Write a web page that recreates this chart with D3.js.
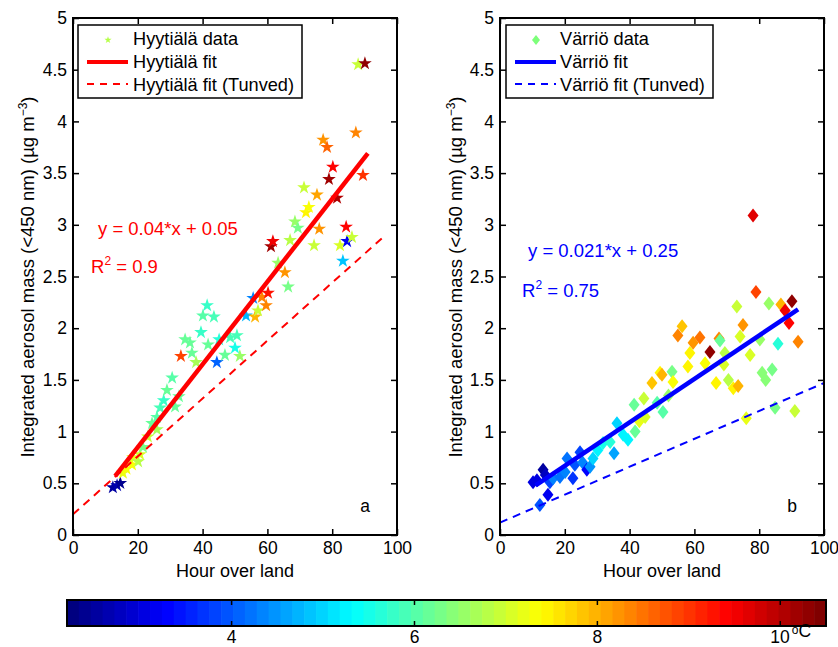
<!DOCTYPE html>
<html><head><meta charset="utf-8">
<script src="https://cdn.jsdelivr.net/npm/d3@7"></script>
<style>html,body{margin:0;padding:0;background:#fff}svg{display:block}text{font-family:"Liberation Sans",Arial,Helvetica,sans-serif}</style>
</head><body>
<svg id="chart" width="838" height="647"></svg>
<script>
// ---------------- DATA ----------------
const xTicks = [0, 20, 40, 60, 80, 100];
const yTicks = [0, 0.5, 1, 1.5, 2, 2.5, 3, 3.5, 4, 4.5, 5];
const cbarTicks = [4, 6, 8, 10];
const cbarRange = [2.2, 10.5];

// Hyytiälä: hour over land, mass, temperature
const hyyHour = [12.3,13.6,14.6,15.4,16.5,18.2,18.5,20.1,20.7,21.6,23.1,24.4,25.9,25.9,26.9,28.0,29.0,30.6,31.5,32.7,33.3,34.6,36.1,36.7,38.0,39.5,40.1,41.4,41.7,43.5,44.4,45.1,46.9,48.5,50.0,50.6,51.5,53.4,55.6,56.2,57.1,58.3,59.6,60.2,61.1,61.7,63.3,65.4,66.4,67.0,68.5,69.4,71.3,71.9,72.8,74.4,75.3,76.0,77.2,78.4,79.0,80.2,81.5,82.4,83.3,84.3,84.6,86.1,87.3,88.0,89.5,90.1];
const hyyMass = [0.46,0.48,0.50,0.60,0.64,0.68,0.75,0.71,0.78,0.85,0.95,1.08,1.02,1.14,1.23,1.30,1.40,1.52,1.24,1.34,1.73,1.89,1.86,1.76,1.67,1.96,2.12,2.22,1.84,2.11,1.67,1.89,1.74,1.91,1.81,1.93,1.73,2.12,2.29,2.11,2.17,2.30,2.22,2.34,2.79,2.84,2.63,2.54,2.40,2.85,3.03,2.97,3.36,3.12,3.17,2.80,3.29,2.96,3.82,3.75,3.44,3.56,3.26,2.80,2.65,2.98,2.84,2.88,3.89,4.55,3.48,4.56];
const hyyTemp = [2.5,2.6,2.4,7.2,7.3,7.3,7.2,6.8,7.0,6.3,6.9,6.1,6.7,6.0,5.9,5.8,6.2,6.0,6.2,6.2,8.9,6.1,6.2,6.2,6.7,5.8,6.0,5.8,6.2,5.9,4.1,5.7,6.2,5.9,5.5,5.9,6.6,4.7,4.3,8.0,6.9,8.4,8.3,9.3,10.2,9.5,6.6,8.2,6.3,6.8,6.6,6.3,6.9,7.4,7.3,6.9,8.1,8.2,8.2,8.6,10.2,9.4,10.1,7.0,4.8,9.4,3.2,6.9,8.3,6.9,9.0,10.3];

// Värriö
const varHour = [10.2,11.4,12.3,13.3,14.0,14.8,15.4,16.4,18.5,20.1,20.7,22.5,23.1,24.7,25.5,26.8,27.8,28.7,30.2,31.8,34.0,35.2,36.1,38.0,39.5,41.4,41.7,43.0,44.4,44.8,46.9,48.5,49.4,50.0,50.3,52.0,53.1,53.4,54.9,56.2,58.0,58.6,59.6,61.7,63.3,64.8,66.7,67.6,67.9,69.1,69.4,70.5,72.0,73.1,73.5,74.1,75.0,76.0,77.2,78.1,79.0,80.2,80.9,82.0,83.0,84.0,84.9,85.8,86.7,88.0,89.2,90.1,91.0,92.0];
const varMass = [0.51,0.53,0.29,0.63,0.58,0.39,0.51,0.55,0.56,0.61,0.74,0.55,0.68,0.80,0.70,0.63,0.66,0.74,0.82,0.89,0.90,0.79,1.08,0.97,0.92,1.26,1.00,1.10,1.32,1.14,1.47,1.28,1.57,1.55,1.19,1.35,1.58,1.48,1.93,2.02,1.63,1.76,1.86,1.91,1.66,1.77,1.47,1.90,1.88,1.65,1.76,1.50,1.42,2.21,1.44,1.92,2.03,1.13,1.74,3.09,2.35,1.89,1.57,1.50,2.24,1.60,1.23,1.85,2.23,2.17,2.05,2.26,1.20,1.87];
const varTemp = [3.1,3.0,4.0,2.5,2.8,3.2,3.8,4.4,4.2,4.3,4.2,3.7,4.0,3.8,4.4,3.3,4.5,5.0,5.2,5.5,5.6,4.6,5.0,5.3,5.2,6.2,6.1,7.2,6.9,7.0,7.8,6.0,7.5,8.0,6.0,6.5,6.3,7.3,8.4,7.8,7.5,7.5,8.2,8.5,7.3,10.3,7.4,8.3,6.2,7.1,6.8,6.8,7.5,6.9,8.0,7.0,8.2,7.2,7.0,9.6,8.9,6.5,6.4,6.4,6.6,6.3,6.3,5.6,8.0,9.5,9.4,10.3,6.9,8.4];

// fits: [slope, intercept, xStart, xEnd]
const hyyFit = [0.04, 0.05, 13, 91];
const hyyTunved = [0.028, 0.2, 0, 95.5];
const varFit = [0.021, 0.25, 11, 92];
const varTunved = [0.0135, 0.12, 0, 100];

// ---------------- DRAW ----------------
const svg = d3.select("#chart");
svg.append("rect").attr("width",838).attr("height",647).attr("fill","#fff");
const FF = '"Liberation Sans",Arial,Helvetica,sans-serif';

function jet(t){
  const c = v => Math.max(0, Math.min(1, v));
  const r = c(1.5 - Math.abs(4*t - 3)), g = c(1.5 - Math.abs(4*t - 2)), b = c(1.5 - Math.abs(4*t - 1));
  return d3.rgb(r*255, g*255, b*255).toString();
}
const NC = 64;
function tempColor(T){
  let i = Math.floor((T - cbarRange[0])/(cbarRange[1]-cbarRange[0])*NC);
  i = Math.max(0, Math.min(NC-1, i));
  return jet(i/(NC-1));
}

const y = d3.scaleLinear().domain([0,5]).range([535,18]);
const TICKF = 17.5, LABF = 18, LEGF = 18.2, EQF = 18.5;

function styleAxis(sel){
  sel.attr("font-size", TICKF).attr("font-family", FF);
  sel.select(".domain").remove();
  sel.selectAll(".tick line").attr("stroke","#000").attr("stroke-width",1.5);
  sel.selectAll(".tick text").attr("fill","#000");
}

function panel(cfg){
  const x = d3.scaleLinear().domain([0,100]).range([cfg.x0, cfg.x1]);
  const g = svg.append("g");
  const pts = d3.range(cfg.hour.length).map(i => ({h:cfg.hour[i], m:cfg.mass[i], t:cfg.temp[i]}));
  const starPath = d3.symbol(d3.symbolStar, 58)();
  const diamondPath = "M0,-7L5.5,0L0,7L-5.5,0Z";
  g.append("g").selectAll("path").data(pts).join("path")
    .attr("d", cfg.marker === "star" ? starPath : diamondPath)
    .attr("transform", d => `translate(${x(d.h)},${y(d.m)})`)
    .attr("fill", d => tempColor(d.t));
  const seg = f => [[f[2], f[0]*f[2]+f[1]], [f[3], f[0]*f[3]+f[1]]];
  const ln = d3.line().x(d=>x(d[0])).y(d=>y(d[1]));
  g.append("path").attr("d", ln(seg(cfg.tunved)))
    .attr("stroke", cfg.color).attr("stroke-width", 2).attr("stroke-dasharray","8,6").attr("fill","none");
  g.append("path").attr("d", ln(seg(cfg.fit)))
    .attr("stroke", cfg.color).attr("stroke-width", 4.5).attr("fill","none");
  // axes
  svg.append("g").attr("transform",`translate(0,535)`)
    .call(d3.axisBottom(x).tickValues(xTicks).tickSizeInner(-6).tickSizeOuter(0).tickPadding(7).tickFormat(d3.format("d")))
    .call(styleAxis);
  svg.append("g").attr("transform",`translate(${cfg.x0},0)`)
    .call(d3.axisLeft(y).tickValues(yTicks).tickSizeInner(-6).tickSizeOuter(0).tickPadding(6).tickFormat(d => String(d)))
    .call(styleAxis);
  svg.append("g").attr("transform",`translate(0,18)`)
    .call(d3.axisTop(x).tickValues(xTicks).tickSizeInner(-6).tickSizeOuter(0).tickFormat(""))
    .call(styleAxis);
  svg.append("g").attr("transform",`translate(${cfg.x1},0)`)
    .call(d3.axisRight(y).tickValues(yTicks).tickSizeInner(-6).tickSizeOuter(0).tickFormat(""))
    .call(styleAxis);
  svg.append("rect").attr("x",cfg.x0).attr("y",18).attr("width",cfg.x1-cfg.x0).attr("height",535-18)
    .attr("fill","none").attr("stroke","#000").attr("stroke-width",2);
  // axis labels
  svg.append("text").attr("x",(cfg.x0+cfg.x1)/2).attr("y",577).attr("text-anchor","middle")
    .attr("font-size",LABF).text("Hour over land");
  const yl = svg.append("text").attr("transform",`translate(${cfg.ylabX},277) rotate(-90)`)
    .attr("text-anchor","middle").attr("font-size",18.5);
  yl.append("tspan").text("Integrated aerosol mass (<450 nm) (µg m");
  yl.append("tspan").attr("font-size",12).attr("dy",-7).text("−3");
  yl.append("tspan").attr("dy",7).text(")");
  // equation
  svg.append("text").attr("x",cfg.eqX).attr("y",cfg.eqY).attr("fill",cfg.color).attr("font-size",EQF).text(cfg.eq);
  const r2 = svg.append("text").attr("x",cfg.r2X).attr("y",cfg.r2Y).attr("fill",cfg.color).attr("font-size",EQF);
  r2.append("tspan").text("R");
  r2.append("tspan").attr("font-size",12).attr("dy",-8).text("2");
  r2.append("tspan").attr("dy",8).text(" = " + cfg.r2);
  // panel letter
  svg.append("text").attr("x",cfg.x1-32).attr("y",512).attr("text-anchor","middle").attr("font-size",TICKF).text(cfg.letter);
  // legend
  const lg = svg.append("g");
  lg.append("rect").attr("x",cfg.lgX).attr("y",25).attr("width",cfg.lgW).attr("height",73)
    .attr("fill","#fff").attr("stroke","#000").attr("stroke-width",1.5);
  const lx = cfg.lgX + 9;
  if (cfg.marker === "star") {
    lg.append("path").attr("d", d3.symbol(d3.symbolStar, 16)()).attr("transform",`translate(${lx+21},40)`).attr("fill","#b6ff48");
  } else {
    lg.append("path").attr("d","M0,-5L4,0L0,5L-4,0Z").attr("transform",`translate(${lx+21},40)`).attr("fill","#7dff7a");
  }
  lg.append("line").attr("x1",lx).attr("x2",lx+41).attr("y1",62).attr("y2",62).attr("stroke",cfg.color).attr("stroke-width",4);
  lg.append("line").attr("x1",lx).attr("x2",lx+41).attr("y1",84).attr("y2",84).attr("stroke",cfg.color).attr("stroke-width",2).attr("stroke-dasharray","7,6");
  cfg.lgText.forEach((t,i) => {
    lg.append("text").attr("x",cfg.lgTx).attr("y",45+i*23).attr("font-size",LEGF).text(t);
  });
}

panel({x0:73, x1:397, hour:hyyHour, mass:hyyMass, temp:hyyTemp, marker:"star", color:"#ff0000",
  fit:hyyFit, tunved:hyyTunved, ylabX:34, eq:"y = 0.04*x + 0.05", eqX:98, eqY:235, r2:"0.9", r2X:91, r2Y:273,
  letter:"a", lgX:78, lgW:224, lgTx:133, lgText:["Hyytiälä data","Hyytiälä fit","Hyytiälä fit (Tunved)"]});
panel({x0:500, x1:824, hour:varHour, mass:varMass, temp:varTemp, marker:"diamond", color:"#0000ff",
  fit:varFit, tunved:varTunved, ylabX:462, eq:"y = 0.021*x + 0.25", eqX:528, eqY:257, r2:"0.75", r2X:522, r2Y:297,
  letter:"b", lgX:506, lgW:207, lgTx:560, lgText:["Värriö data","Värriö fit","Värriö fit (Tunved)"]});

// colorbar
const cx = d3.scaleLinear().domain(cbarRange).range([67, 826]);
const cb = svg.append("g");
const bw = (826-67)/NC;
cb.selectAll("rect.c").data(d3.range(NC)).join("rect").attr("class","c")
  .attr("x", i => 67 + i*bw).attr("y",600).attr("width", bw+0.6).attr("height",26)
  .attr("fill", i => jet(i/(NC-1)));
cb.selectAll("line.tt").data(cbarTicks).join("line").attr("class","tt")
  .attr("x1",d=>cx(d)).attr("x2",d=>cx(d)).attr("y1",600).attr("y2",605).attr("stroke","#000").attr("stroke-width",1.5);
cb.selectAll("line.tb").data(cbarTicks).join("line").attr("class","tb")
  .attr("x1",d=>cx(d)).attr("x2",d=>cx(d)).attr("y1",621).attr("y2",626).attr("stroke","#000").attr("stroke-width",1.5);
cb.append("rect").attr("x",67).attr("y",600).attr("width",826-67).attr("height",26)
  .attr("fill","none").attr("stroke","#000").attr("stroke-width",2);
cbarTicks.forEach(t => {
  const tx = cb.append("text").attr("x",cx(t)).attr("y",643).attr("font-size",TICKF).attr("text-anchor","middle");
  if (t === 10) {
    tx.attr("text-anchor","start").attr("x",cx(t)-10);
    tx.append("tspan").text("10");
    tx.append("tspan").attr("font-size",12).attr("dy",-9).attr("dx",2).text("o");
    tx.append("tspan").attr("dy",3).text("C");
  } else tx.text(t);
});
</script>
</body></html>
